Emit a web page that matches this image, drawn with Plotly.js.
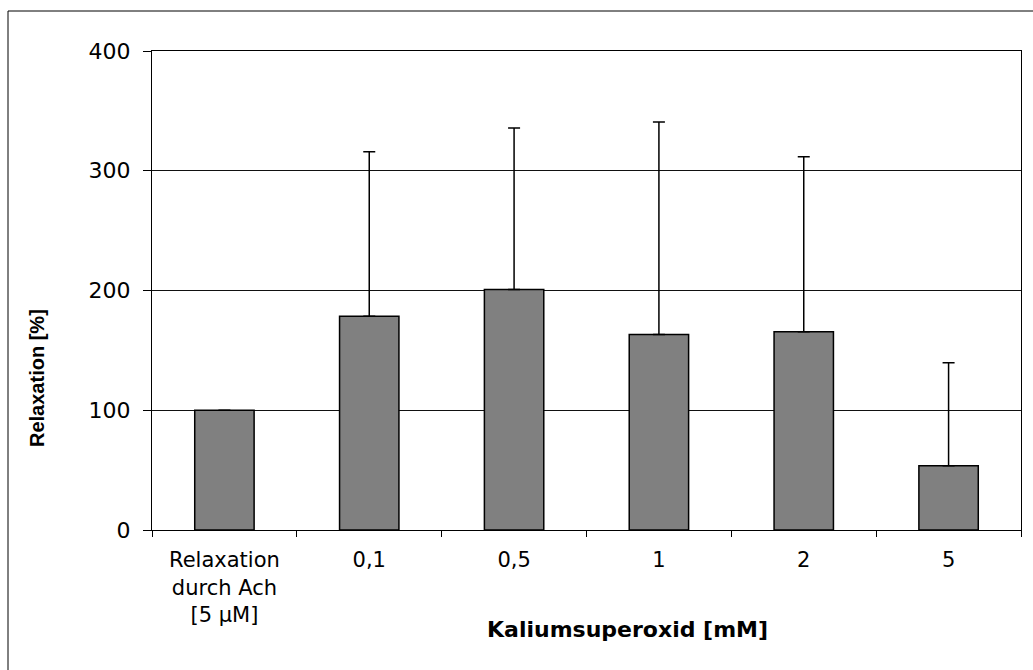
<!DOCTYPE html>
<html>
<head>
<meta charset="utf-8">
<script src="https://cdn.plot.ly/plotly-3.0.1.min.js"></script>
<style>
  html, body { margin: 0; padding: 0; background: #fff; }
  #chart { width: 1033px; height: 670px; }
</style>
</head>
<body>
<div id="chart"></div>
<script>
const categories = ["Relaxation<br>durch Ach<br>[5 µM]", "0,1", "0,5", "1", "2", "5"];
const values = [100, 178.6, 200.9, 163.3, 165.5, 53.7];
const errorsPlus = [0, 137.2, 134.7, 177.5, 146.1, 86.0];
const errorsMinus = [0, 0, 0, 0, 0, 0];
const yTickValues = [0, 100, 200, 300, 400];
const yTickLabels = ["0", "100", "200", "300", "400"];
const xTitle = "Kaliumsuperoxid [mM]";
const yTitle = "Relaxation [%]";

const W = 1033, H = 670;
const mL = 152, mR = 12, mT = 51, mB = 140;
const pw = W - mL - mR, ph = H - mT - mB;
const px = x => (x - mL) / pw;
const py = y => (H - mB - y) / ph;

const trace = {
  type: "bar",
  x: categories,
  y: values,
  marker: { color: "#808080", line: { color: "#000", width: 1.5 } },
  error_y: {
    type: "data",
    symmetric: false,
    array: errorsPlus,
    arrayminus: errorsMinus,
    color: "#000",
    thickness: 1.5,
    width: 6
  },
  hoverinfo: "none"
};

const layout = {
  width: W, height: H,
  margin: { l: mL, r: mR, t: mT, b: mB, pad: 0 },
  paper_bgcolor: "#fff",
  plot_bgcolor: "#fff",
  showlegend: false,
  bargap: 0.59,
  font: { family: "DejaVu Sans, Arial, sans-serif", color: "#000", size: 21 },
  xaxis: {
    type: "category",
    tickson: "boundaries",
    ticks: "outside",
    ticklen: 6,
    tickwidth: 1,
    tickcolor: "#000",
    showline: true, linecolor: "#000", linewidth: 1, mirror: true,
    showgrid: false,
    ticklabelstandoff: 11,
    tickfont: { family: "DejaVu Sans, Arial, sans-serif", size: 21, color: "#000" }
  },
  yaxis: {
    range: [0, 400],
    tickvals: yTickValues,
    ticktext: yTickLabels,
    ticks: "outside",
    ticklen: 8,
    tickwidth: 1,
    tickcolor: "#000",
    showline: true, linecolor: "#000", linewidth: 1, mirror: true,
    showgrid: true, gridcolor: "#111", gridwidth: 1,
    zeroline: false,
    ticklabelstandoff: 8,
    tickfont: { family: "DejaVu Sans, Arial, sans-serif", size: 22, color: "#000" }
  },
  annotations: [
    {
      text: "<b>" + xTitle + "</b>",
      xref: "paper", yref: "paper",
      x: px(627), y: py(629),
      xanchor: "center", yanchor: "middle",
      showarrow: false,
      font: { family: "DejaVu Sans, Arial, sans-serif", size: 22, color: "#000" }
    },
    {
      text: "<b>" + yTitle + "</b>",
      xref: "paper", yref: "paper",
      x: px(37), y: py(378),
      xanchor: "center", yanchor: "middle",
      textangle: -90,
      showarrow: false,
      font: { family: "Liberation Sans, Arial, sans-serif", size: 20, color: "#000" }
    }
  ],
  shapes: [
    {
      type: "rect", xref: "paper", yref: "paper",
      x0: px(8), x1: px(1100), y0: py(720), y1: py(11),
      line: { color: "#000", width: 1 },
      fillcolor: "rgba(0,0,0,0)",
      layer: "below"
    }
  ]
};

Plotly.newPlot("chart", [trace], layout, { displayModeBar: false, staticPlot: true });
</script>
</body>
</html>
